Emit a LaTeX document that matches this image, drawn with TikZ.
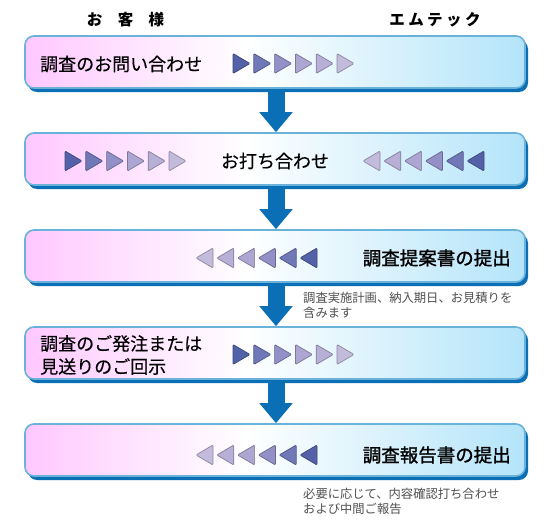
\documentclass[tikz,border=0pt]{standalone}
\usepackage{fontspec}
\setmainfont{Noto Sans CJK JP}
\newfontfamily\jpmid[FakeBold=1.3]{Noto Sans CJK JP}
\newfontfamily\jpreg[FakeBold=0.3]{Noto Sans CJK JP}
\usetikzlibrary{arrows.meta,shadows}
\definecolor{pinkc}{HTML}{FFC8FF}
\definecolor{bluec}{HTML}{B4E4FA}
\definecolor{rimc}{HTML}{6AB2DA}
\definecolor{deepc}{HTML}{0A6FB5}
\definecolor{notec}{HTML}{505050}
\definecolor{tA}{HTML}{5362A8}
\definecolor{tB}{HTML}{7078B8}
\definecolor{tC}{HTML}{9290C6}
\definecolor{tD}{HTML}{ADA6D2}
\definecolor{tE}{HTML}{B7AFD6}
\definecolor{tF}{HTML}{C3BBDC}
\pgfdeclarehorizontalshading{boxfill}{100bp}{color(0bp)=(pinkc); color(25bp)=(pinkc); color(47bp)=(white); color(75bp)=(bluec); color(100bp)=(bluec)}
\tikzset{
  panel/.style={rounded corners=9pt, draw=rimc, line width=1.6pt, shading=boxfill,
    minimum width=500pt, minimum height=52pt, inner sep=0pt,
    drop shadow={shadow xshift=3pt, shadow yshift=-4pt, fill=deepc, opacity=1}},
  flow/.style={draw=deepc, line width=17pt, -{Triangle[width=32pt,length=20pt]}},
  tri/.style={line width=0.7pt, rounded corners=1pt, line join=round},
  pics/tr/.style={code={\draw[tri, fill=#1, draw=#1!72!black] (-8.5,-10) -- (8.5,0) -- (-8.5,10) -- cycle;}},
  pics/tl/.style={code={\draw[tri, fill=#1, draw=#1!72!black] (8.5,-10) -- (-8.5,0) -- (8.5,10) -- cycle;}},
  head/.style={font=\fontsize{15.5}{18}\selectfont\bfseries, inner sep=0pt},
  main/.style={font=\jpreg\fontsize{18}{23}\selectfont, inner sep=0pt, align=left},
  mainb/.style={font=\jpmid\fontsize{18.5}{23}\selectfont, inner sep=0pt},
  note/.style={font=\fontsize{12.3}{15}\selectfont, text=notec, inner sep=0pt, align=left},
}
\begin{document}
\begin{tikzpicture}[x=1pt,y=-1pt]
\useasboundingbox (0,0) rectangle (550,530);
\fill[white] (0,0) rectangle (550,530);
% headers
\node[head] (h1) at (125.5,20) {お　客　様};
\node[head] (h2) at (435,20) {\addfontfeature{LetterSpace=22}エムテック};
% panels
\node[panel] (b1) at (275,62) {};
\node[panel] (b2) at (275,159) {};
\node[panel] (b3) at (275,256) {};
\node[panel] (b4) at (275,353) {};
\node[panel] (b5) at (275,450) {};
% connectors
\draw[flow] ([xshift=1pt,yshift=-3pt]b1.south) -- ([xshift=1pt]b2.north);
\draw[flow] ([xshift=1pt,yshift=-3pt]b2.south) -- ([xshift=1pt]b3.north);
\draw[flow] ([xshift=1pt,yshift=-3pt]b3.south) -- ([xshift=1pt]b4.north);
\draw[flow] ([xshift=1pt,yshift=-3pt]b4.south) -- ([xshift=1pt]b5.north);
% panel 1
\node[main, anchor=west] (t1) at (40,64) {調査のお問い合わせ};
\foreach \c [count=\i from 0] in {tA,tB,tC,tD,tE,tF}
  \pic at (241.5+20.8*\i,63.5) {tr=\c};
% panel 2
\foreach \c [count=\i from 0] in {tA,tB,tC,tD,tE,tF}
  \pic at (73.5+20.8*\i,161) {tr=\c};
\node[main] (t2) at (275,161) {お打ち合わせ};
\foreach \c [count=\i from 0] in {tF,tE,tD,tC,tB,tA}
  \pic at (371.5+20.8*\i,161) {tl=\c};
% panel 3
\foreach \c [count=\i from 0] in {tF,tE,tD,tC,tB,tA}
  \pic at (204.5+20.8*\i,258) {tl=\c};
\node[mainb, anchor=east] (t3) at (511,258) {調査提案書の提出};
\node[note, anchor=north west] (n1) at (303,291.5) {調査実施計画、納入期日、お見積りを\\含みます};
% panel 4
\node[main, anchor=west] (t4) at (40,355) {調査のご発注または\\見送りのご回示};
\foreach \c [count=\i from 0] in {tA,tB,tC,tD,tE,tF}
  \pic at (241.5+20.8*\i,354.5) {tr=\c};
% panel 5
\foreach \c [count=\i from 0] in {tF,tE,tD,tC,tB,tA}
  \pic at (204.5+20.8*\i,455) {tl=\c};
\node[mainb, anchor=east] (t5) at (511,455) {調査報告書の提出};
\node[note, anchor=north west] (n2) at (303,487.5) {必要に応じて、内容確認打ち合わせ\\および中間ご報告};
\end{tikzpicture}
\end{document}
